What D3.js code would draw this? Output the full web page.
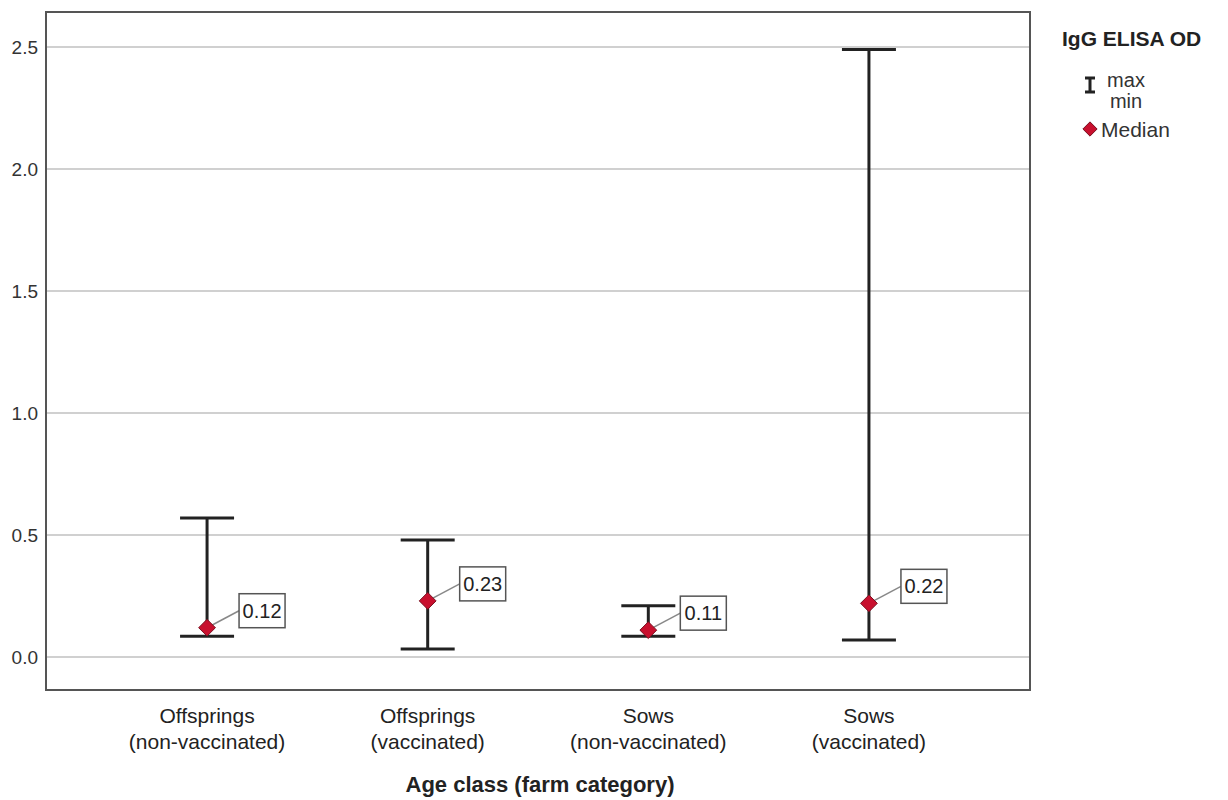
<!DOCTYPE html>
<html>
<head>
<meta charset="utf-8">
<script src="https://cdn.jsdelivr.net/npm/d3@7"></script>
<style>
  body { margin: 0; background: #fff; }
  svg text { font-family: "Liberation Sans", Arial, sans-serif; }
</style>
</head>
<body>
<svg id="chart" width="1228" height="800"></svg>
<script>
const categories = [
  ['Offsprings', '(non-vaccinated)'],
  ['Offsprings', '(vaccinated)'],
  ['Sows', '(non-vaccinated)'],
  ['Sows', '(vaccinated)']
]
const maxValues = [0.57, 0.48, 0.21, 2.49]
const minValues = [0.085, 0.033, 0.085, 0.07]
const medianValues = [0.12, 0.23, 0.11, 0.22]
const yTicks = [0, 0.5, 1.0, 1.5, 2.0, 2.5]

const box = { left: 46, right: 1030, top: 12, bottom: 690 }
const svg = d3.select('svg#chart')

const x = d3.scalePoint()
  .domain(d3.range(categories.length))
  .range([box.left, box.right])
  .padding(0.73)

const y = d3.scaleLinear()
  .domain([0, 2.5])
  .range([657, 47])

// gridlines
svg.append('g')
  .selectAll('line')
  .data(yTicks)
  .join('line')
  .attr('x1', box.left)
  .attr('x2', box.right)
  .attr('y1', d => y(d))
  .attr('y2', d => y(d))
  .attr('stroke', '#d0d0d0')
  .attr('stroke-width', 2)

// y axis labels
const yAxis = svg.append('g')
  .attr('transform', `translate(${box.left},0)`)
  .call(d3.axisLeft(y).tickValues(yTicks).tickFormat(d3.format('.1f')).tickSize(0).tickPadding(8))
yAxis.select('.domain').remove()
yAxis.selectAll('text')
  .attr('font-size', 19)
  .attr('fill', '#333')
  .style('font-family', '"Liberation Sans", Arial, sans-serif')

// frame
svg.append('rect')
  .attr('x', box.left)
  .attr('y', box.top)
  .attr('width', box.right - box.left)
  .attr('height', box.bottom - box.top)
  .attr('fill', 'none')
  .attr('stroke', '#555')
  .attr('stroke-width', 2)

const capHalf = 27
const g = svg.append('g')
const idx = d3.range(categories.length)

// whiskers and caps
g.selectAll('.whisker')
  .data(idx)
  .join('line')
  .attr('x1', i => x(i))
  .attr('x2', i => x(i))
  .attr('y1', i => y(maxValues[i]))
  .attr('y2', i => y(minValues[i]))
  .attr('stroke', '#222')
  .attr('stroke-width', 3)

g.selectAll('.capTop')
  .data(idx)
  .join('line')
  .attr('x1', i => x(i) - capHalf)
  .attr('x2', i => x(i) + capHalf)
  .attr('y1', i => y(maxValues[i]))
  .attr('y2', i => y(maxValues[i]))
  .attr('stroke', '#222')
  .attr('stroke-width', 3)

g.selectAll('.capBottom')
  .data(idx)
  .join('line')
  .attr('x1', i => x(i) - capHalf)
  .attr('x2', i => x(i) + capHalf)
  .attr('y1', i => y(minValues[i]))
  .attr('y2', i => y(minValues[i]))
  .attr('stroke', '#222')
  .attr('stroke-width', 3)

// median labels with leader lines
const labelDx = 32
const labelDy = -17
const labels = g.selectAll('.lab')
  .data(idx)
  .join('g')
  .attr('transform', i => `translate(${x(i) + labelDx},${y(medianValues[i]) + labelDy})`)

labels.append('line')
  .attr('x1', -labelDx)
  .attr('y1', -labelDy)
  .attr('x2', 0)
  .attr('y2', 0)
  .attr('stroke', '#888')
  .attr('stroke-width', 1.5)

labels.append('rect')
  .attr('x', 0)
  .attr('y', -17)
  .attr('width', 46)
  .attr('height', 34)
  .attr('fill', '#fff')
  .attr('stroke', '#555')
  .attr('stroke-width', 1.5)

labels.append('text')
  .attr('x', 23)
  .attr('y', 7)
  .attr('text-anchor', 'middle')
  .attr('font-size', 20)
  .attr('fill', '#222')
  .text(i => d3.format('.2f')(medianValues[i]))

// median diamonds
g.selectAll('.median')
  .data(idx)
  .join('path')
  .attr('d', d3.symbol(d3.symbolDiamond2, 180))
  .attr('transform', i => `translate(${x(i)},${y(medianValues[i])})`)
  .attr('fill', '#c8102e')
  .attr('stroke', '#7a1020')
  .attr('stroke-width', 1)

// category labels
const cat = svg.append('g')
  .selectAll('text')
  .data(idx)
  .join('text')
  .attr('x', i => x(i))
  .attr('text-anchor', 'middle')
  .attr('font-size', 21)
  .attr('fill', '#222')
cat.append('tspan').attr('x', i => x(i)).attr('y', 723).text(i => categories[i][0])
cat.append('tspan').attr('x', i => x(i)).attr('y', 749).text(i => categories[i][1])

svg.append('text')
  .attr('x', (box.left + box.right) / 2 + 2)
  .attr('y', 792)
  .attr('text-anchor', 'middle')
  .attr('font-size', 22)
  .attr('font-weight', 'bold')
  .attr('fill', '#222')
  .text('Age class (farm category)')

// legend
const legend = svg.append('g')
legend.append('text')
  .attr('x', 1062).attr('y', 46)
  .attr('font-size', 21).attr('font-weight', 'bold').attr('fill', '#222')
  .text('IgG ELISA OD')
legend.append('path')
  .attr('d', 'M1085,78 h10 M1090,78 v14 M1085,92 h10')
  .attr('stroke', '#222').attr('stroke-width', 3).attr('fill', 'none')
legend.append('text')
  .attr('x', 1126).attr('y', 87).attr('text-anchor', 'middle')
  .attr('font-size', 20).attr('fill', '#333').text('max')
legend.append('text')
  .attr('x', 1126).attr('y', 108).attr('text-anchor', 'middle')
  .attr('font-size', 20).attr('fill', '#333').text('min')
legend.append('path')
  .attr('d', d3.symbol(d3.symbolDiamond2, 130))
  .attr('transform', 'translate(1090,129)')
  .attr('fill', '#c8102e').attr('stroke', '#7a1020').attr('stroke-width', 1)
legend.append('text')
  .attr('x', 1101).attr('y', 137)
  .attr('font-size', 21).attr('fill', '#333').text('Median')
</script>
</body>
</html>
